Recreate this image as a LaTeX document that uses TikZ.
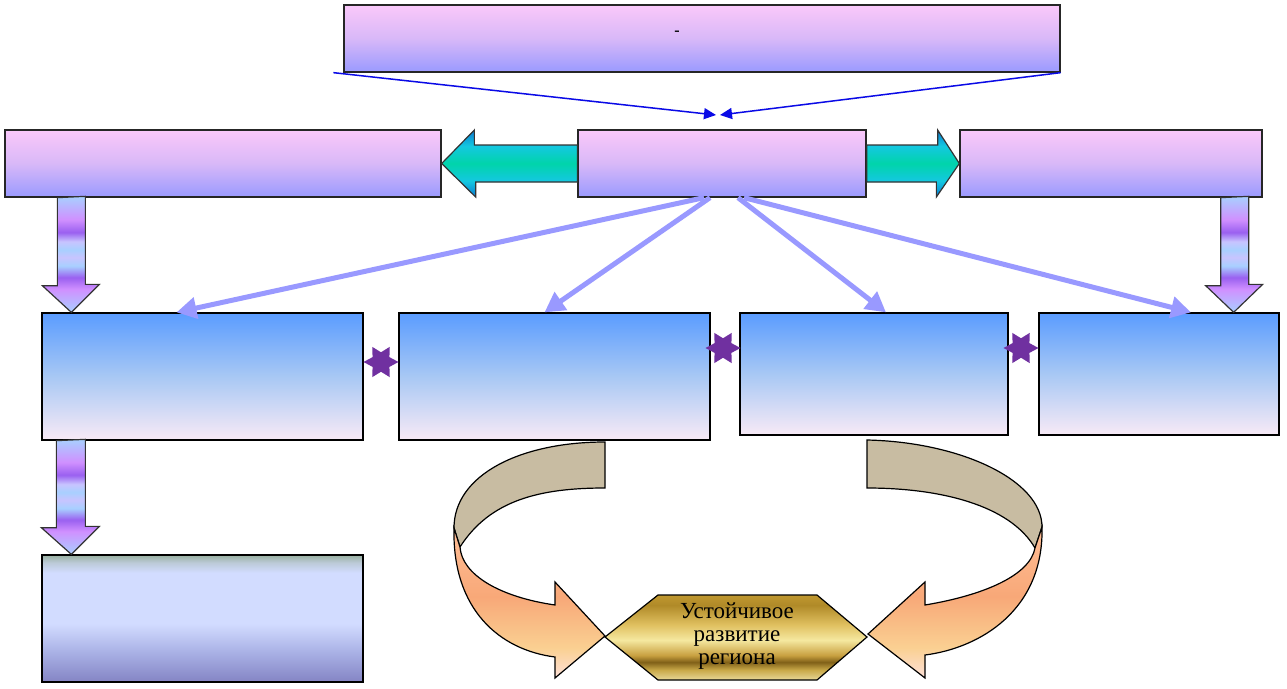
\documentclass[tikz,border=0pt]{standalone}
\usepackage{fontspec}
\setmainfont{Liberation Serif}
\usetikzlibrary{arrows.meta,shapes.geometric}

\definecolor{pinktop}{HTML}{FAC8FA}
\definecolor{pinkmid}{HTML}{D8B8F8}
\definecolor{pinkbot}{HTML}{9A9AFF}
\definecolor{bluetop}{HTML}{5A9CFF}
\definecolor{bluemid}{HTML}{A8C8F4}
\definecolor{bluebot}{HTML}{F8EAF6}
\definecolor{fanblue}{HTML}{9999FF}
\definecolor{lineblue}{HTML}{0A0AE6}
\definecolor{starpurple}{HTML}{7030A0}
\definecolor{tanfill}{HTML}{C8BCA2}
\definecolor{tealblue}{HTML}{0A78D0}
\definecolor{tealcyan}{HTML}{14C8E0}
\definecolor{tealgreen}{HTML}{00D4AA}
\definecolor{bandA}{HTML}{A8D0FF}
\definecolor{bandB}{HTML}{D090FF}
\definecolor{bandC}{HTML}{9A60F0}
\definecolor{bandD}{HTML}{C8C4FF}
\definecolor{paleA}{HTML}{8484C4}
\definecolor{paleB}{HTML}{AAB2E6}
\definecolor{paleC}{HTML}{D2DCFF}
\definecolor{paleD}{HTML}{BCCAD8}
\definecolor{paleE}{HTML}{98B0A0}
\definecolor{goldA}{HTML}{E8D898}
\definecolor{goldB}{HTML}{C8A848}
\definecolor{goldC}{HTML}{806018}
\definecolor{goldD}{HTML}{C8A040}
\definecolor{goldE}{HTML}{F5E8A0}
\definecolor{goldF}{HTML}{E0C060}
\definecolor{goldG}{HTML}{B08A28}
\definecolor{goldH}{HTML}{C09830}
\definecolor{orangeA}{HTML}{FDE0D8}
\definecolor{orangeB}{HTML}{FAD092}
\definecolor{orangeC}{HTML}{F8A878}
\definecolor{orangeD}{HTML}{FFBE96}

\pgfdeclareverticalshading{tealband}{100bp}{color(0bp)=(tealblue); color(25bp)=(tealblue); color(37bp)=(tealcyan); color(50bp)=(tealgreen); color(63bp)=(tealcyan); color(75bp)=(tealblue); color(100bp)=(tealblue)}
\pgfdeclareverticalshading{purpleband}{100bp}{color(0bp)=(bandA); color(25bp)=(bandA); color(35bp)=(bandB); color(40bp)=(bandC); color(45bp)=(bandA); color(48.7bp)=(bandD); color(52bp)=(bandA); color(55.5bp)=(bandD); color(59.5bp)=(bandC); color(65bp)=(bandB); color(75bp)=(bandA); color(100bp)=(bandA)}
\pgfdeclareverticalshading{paleband}{100bp}{color(0bp)=(paleA); color(25bp)=(paleA); color(37bp)=(paleB); color(48bp)=(paleC); color(68bp)=(paleC); color(72bp)=(paleD); color(75bp)=(paleE); color(100bp)=(paleE)}
\pgfdeclareverticalshading{goldband}{100bp}{color(0bp)=(goldA); color(25bp)=(goldA); color(31bp)=(goldB); color(35.5bp)=(goldC); color(39.5bp)=(goldD); color(48.5bp)=(goldE); color(57.5bp)=(goldF); color(69bp)=(goldG); color(75bp)=(goldH); color(100bp)=(goldH)}
\pgfdeclareverticalshading{orangeband}{100bp}{color(0bp)=(orangeA); color(25bp)=(orangeA); color(35bp)=(orangeB); color(52bp)=(orangeC); color(75bp)=(orangeD); color(100bp)=(orangeD)}

\begin{document}
\begin{tikzpicture}
        [x=1pt,y=-1pt,
         pinkbox/.style={draw=black!85,line width=1.3pt,top color=pinktop,bottom color=pinkbot,middle color=pinkmid,inner sep=0pt},
         bluebox/.style={draw=black,line width=1.3pt,top color=bluetop,bottom color=bluebot,middle color=bluemid,inner sep=0pt},
         palebox/.style={draw=black,line width=1.3pt,shade,shading=paleband,inner sep=0pt},
         starmark/.style={star,star points=6,star point ratio=1.8,minimum size=35pt,inner sep=0pt,fill=starpurple,rotate=90},
         fanline/.style={draw=fanblue,line width=5pt,-{Triangle[length=20pt,width=21pt]}},
         blueline/.style={draw=lineblue,line width=1.5pt,-{Triangle[length=12pt,width=11pt]}},
         tealarrow/.style={draw=black!80,line width=1.2pt,shade,shading=tealband},
         bandarrow/.style={draw=black!80,line width=1.2pt,shade,shading=purpleband},
         tanpart/.style={draw=black,line width=1.2pt,fill=tanfill},
         orangepart/.style={draw=black,line width=1.2pt,shade,shading=orangeband}]

        \fill[white] (0,0) rectangle (1287,688);

        \node[pinkbox,minimum width=716pt,minimum height=67pt] (T) at (702,38.5) {};
        \node[font=\fontsize{16}{18}\bfseries\selectfont] (dash) at (677,33) {-};

        \node[pinkbox,minimum width=436pt,minimum height=67pt] (L) at (223,163.5) {};
        \node[pinkbox,minimum width=288pt,minimum height=67pt] (M) at (722,163.5) {};
        \node[pinkbox,minimum width=302pt,minimum height=67pt] (R) at (1111,163.5) {};

        \node[bluebox,minimum width=321pt,minimum height=127pt] (B1) at (202.5,376.5) {};
        \node[bluebox,minimum width=311pt,minimum height=127pt] (B2) at (554.5,376.5) {};
        \node[bluebox,minimum width=268pt,minimum height=122pt] (B3) at (874,374) {};
        \node[bluebox,minimum width=240pt,minimum height=122pt] (B4) at (1159,374) {};
        \node[palebox,minimum width=321pt,minimum height=127pt] (B5) at (202.5,618.5) {};

        \coordinate (meet) at (718,115);
        \draw[blueline] ([xshift=-10pt]T.south west) -- ([xshift=-2pt]meet);
        \draw[blueline] (T.south east) -- ([xshift=2pt]meet);

        \draw[tealarrow] ([yshift=18.5pt]M.west) -- ++(-103,0) -- ++(0,-15) -- (L.east) -- ++(34,33.5) -- ++(0,-15) -- ([yshift=-18.5pt]M.west) -- cycle;
        \draw[tealarrow] ([yshift=18.5pt]M.east) -- ++(71,0) -- ++(0,-15) -- (R.west) -- ++(-23,33.5) -- ++(0,-15) -- ([yshift=-18.5pt]M.east) -- cycle;

        \draw[bandarrow] ([xshift=53pt]L.south west) -- ++(0,88) -- ++(-15,0) -- ([xshift=30pt]B1.north west) -- ++(28,-28) -- ++(-14,0) -- ++(0,-88) -- cycle;
        \draw[bandarrow] ([xshift=-42pt]R.south east) -- ++(0,88) -- ++(-15,0) -- ([xshift=-46pt]B4.north east) -- ++(29,-28) -- ++(-14,0) -- ++(0,-88) -- cycle;
        \draw[bandarrow] ([xshift=15pt]B1.south west) -- ++(0,87) -- ++(-15,0) -- ([xshift=30pt]B5.north west) -- ++(28,-28) -- ++(-14,0) -- ++(0,-87) -- cycle;

        \draw[fanline] ([xshift=-18pt]M.south) -- ([xshift=-26pt]B1.north);
        \draw[fanline] ([xshift=-12pt]M.south) -- ([xshift=-10pt]B2.north);
        \draw[fanline] ([xshift=16pt]M.south) -- ([xshift=12pt]B3.north);
        \draw[fanline] ([xshift=22pt]M.south) -- ([xshift=32pt]B4.north);

        \node[starmark] (s1) at (381,362) {};
        \node[starmark] (s2) at (723,348) {};
        \node[starmark] (s3) at (1021,348) {};

        \draw[tanpart] (605,442) .. controls (520,442) and (454,475) .. (454,528) -- (460,547) .. controls (490,500) and (540,488) .. (605,488) -- cycle;
        \draw[orangepart] (454,528) .. controls (452,610) and (500,650) .. (555,657) -- (555,678) -- (605,636) -- (555,582) -- (555,605) .. controls (500,597) and (462,575) .. (460,547) -- cycle;

        \draw[tanpart] (867,440) .. controls (960,442) and (1042,480) .. (1042,527) -- (1035,548) .. controls (1010,505) and (940,488) .. (867,488) -- cycle;
        \draw[orangepart] (1042,527) .. controls (1044,610) and (980,648) .. (925,655) -- (925,678) -- (868,634) -- (925,582) -- (925,605) .. controls (985,595) and (1030,575) .. (1035,548) -- cycle;

        \draw[draw=black,line width=1.2pt,shade,shading=goldband] (605,637) -- (658,595) -- (817,595) -- (867,637) -- (817,680) -- (658,680) -- cycle;
        \node[align=center,font=\fontsize{23}{23}\selectfont] (goal) at (737,636) {Устойчивое\\развитие\\региона};
      \end{tikzpicture}
\end{document}
